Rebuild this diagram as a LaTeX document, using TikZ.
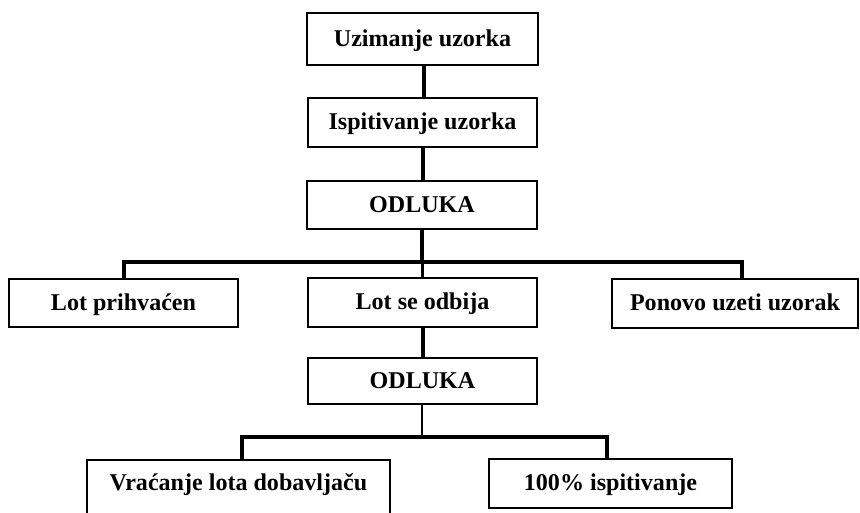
\documentclass[tikz,border=0pt]{standalone}
\usepackage{fontspec}
\setmainfont{Liberation Serif}
\begin{document}
\begin{tikzpicture}[x=0.02cm,y=-0.02cm,
  box/.style={draw, line width=1.25pt, inner sep=0pt, align=center,
    text height=8pt, text depth=0pt,
    font=\fontsize{13.7}{16}\selectfont\bfseries},
  link/.style={line width=1.9pt},
  thinlink/.style={line width=1.2pt}]
\useasboundingbox (0,0) rectangle (860,512);

% main chain
\node[box, minimum width=4.62cm, minimum height=1.04cm] (take)   at (422.5,39)    {Uzimanje uzorka};
\node[box, minimum width=4.58cm, minimum height=0.98cm] (test)   at (422.5,122.5) {Ispitivanje uzorka};
\node[box, minimum width=4.60cm, minimum height=0.96cm] (dec1)   at (422,205)     {ODLUKA};

% first decision outcomes
\node[box, minimum width=4.58cm, minimum height=0.96cm] (accept) at (123.5,303)   {Lot prihvaćen};
\node[box, minimum width=4.58cm, minimum height=0.98cm] (reject) at (422.5,302.5) {Lot se odbija};
\node[box, minimum width=4.92cm, minimum height=0.98cm] (resamp) at (735,303.5)   {Ponovo uzeti uzorak};

% second decision
\node[box, minimum width=4.58cm, minimum height=0.92cm] (dec2)   at (422.5,381)   {ODLUKA};
\node[box, minimum width=6.06cm, minimum height=1.08cm] (ret)    at (238.5,487)   {\raisebox{2pt}{Vraćanje lota dobavljaču}};
\node[box, minimum width=4.86cm, minimum height=0.98cm] (full)   at (610.5,483.5) {100\% ispitivanje};

% branch bar coordinates
\coordinate (barA) at (124,262);
\coordinate (barB) at (742,262);
\coordinate (barC) at (242,437);
\coordinate (barD) at (607,437);

% connectors
\draw[link] (take.south -| 424,0) -- (test.north -| 424,0);
\draw[link] (test.south -| 423,0) -- (dec1.north -| 423,0);
\draw[link] (dec1.south) -- (dec1.south |- barA);
\draw[link] (barA |- accept.north) -- (barA) -- (barB) -- (barB |- resamp.north);
\draw[link] (reject.north) -- (reject.north |- barA);
\draw[link] (reject.south -| 423,0) -- (dec2.north -| 423,0);
\draw[thinlink] (dec2.south -| 422,0) -- (422,437);
\draw[link] (barC |- ret.north) -- (barC) -- (barD) -- (barD |- full.north);
\end{tikzpicture}
\end{document}
